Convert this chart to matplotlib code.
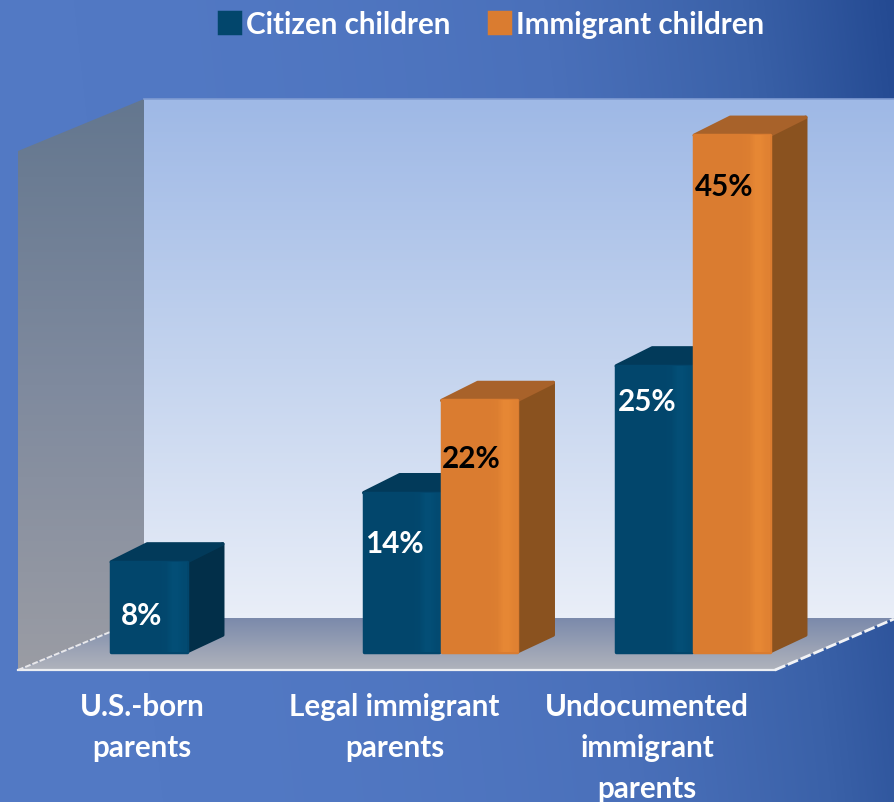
import numpy as np
from matplotlib import pyplot as plt
from matplotlib.colors import LinearSegmentedColormap
from matplotlib.patches import Polygon

categories = ["U.S.-born\nparents", "Legal immigrant\nparents", "Undocumented\nimmigrant\nparents"]
series_names = ["Citizen children", "Immigrant children"]
citizen_values = [8, 14, 25]
immigrant_values = [None, 22, 45]

W, H = 894, 803
PX_X = 252.5  # pixels per category
PX_Y = 11.53  # pixels per percent
X0, Y0 = 188, 654  # pixel position of category 0 / value 0
BAR_W = 78 / PX_X
DX, DY = 36 / PX_X, 18 / PX_Y  # fake 3d depth
FONT_SIZE = 21.3

# front, sheen, top, side
STYLE = {
    "citizen": ("#02466C", "#034E76", "#023A5A", "#022F49"),
    "immigrant": ("#DA7C30", "#E68734", "#A8622A", "#8A521F"),
}


def fx(px):
    return (px - X0) / PX_X


def fy(py):
    return (Y0 - py) / PX_Y


def cmap(*colors):
    return LinearSegmentedColormap.from_list("g", colors)


def gradient(ax, data, cm, extent, clip=None, zorder=1):
    im = ax.imshow(data, cmap=cm, vmin=0, vmax=1, extent=extent, origin="lower",
                   aspect="auto", zorder=zorder, interpolation="bilinear")
    if clip is not None:
        im.set_clip_path(clip)
    return im


def draw_background(ax):
    xx, yy = np.meshgrid(np.linspace(0, 1, 200), np.linspace(0, 1, 200))
    t = np.clip(xx + yy * 0.1 - 0.1, 0, 1) ** 2.2
    gradient(ax, t, cmap("#5279C4", "#4A70BA", "#3A61A8", "#244A92"),
             [fx(0), fx(W), fy(H), fy(0)], zorder=0)


def draw_walls(ax):
    # back wall
    ext = [fx(144), fx(W), fy(619), fy(100)]
    t = np.linspace(0, 1, 100).reshape(-1, 1)
    gradient(ax, t, cmap("#E9EEF8", "#C3D3EE", "#9FB9E6"), ext, zorder=1)
    ax.plot([fx(144), fx(W)], [fy(100), fy(100)], color="#7F9BD2", lw=1.2, zorder=2)

    # left wall
    left = Polygon([(fx(18), fy(152)), (fx(144), fy(100)), (fx(144), fy(619)), (fx(18), fy(671))],
                   transform=ax.transData, fc="none", ec="none")
    ax.add_patch(left)
    gradient(ax, t, cmap("#9A9CA4", "#7F8A9E", "#64778F"), [fx(18), fx(144), fy(671), fy(100)],
             clip=left, zorder=1)

    # floor
    floor = Polygon([(fx(18), fy(671)), (fx(144), fy(619)), (fx(W), fy(619)), (fx(775), fy(671))],
                    transform=ax.transData, fc="none", ec="none")
    ax.add_patch(floor)
    gradient(ax, t, cmap("#B0B3BC", "#7B8AAB"), [fx(18), fx(W), fy(671), fy(619)], clip=floor, zorder=1)

    ax.plot([fx(18), fx(775)], [fy(671), fy(671)], color="#ECEEF2", lw=1.6, zorder=2)
    ax.plot([fx(18), fx(144)], [fy(671), fy(619)], color="#E8E8EC", lw=1.4, ls=(0, (3, 1)), zorder=2)
    ax.plot([fx(775), fx(W)], [fy(671), fy(620)], color="#F2F3F6", lw=2, ls=(0, (4, 1)), zorder=2)


def draw_bars(ax, x, values, style, label):
    front, sheen, top, side = STYLE[style]
    keep = [i for i, v in enumerate(values) if v is not None]
    xs = np.array(x)[keep]
    vals = np.array([values[i] for i in keep], dtype=float)
    inner = BAR_W - 2.5 / PX_X

    # side and top faces go behind the front bar
    for xi, v in zip(xs, vals):
        r = xi + inner / 2
        l = xi - inner / 2
        ax.add_patch(Polygon([(r, 0.1), (r + DX, DY), (r + DX, v + DY - 0.1), (r, v - 0.1)], fc=side, ec=side,
                             lw=2.5, joinstyle="round", zorder=3 + xi / 10))
        ax.add_patch(Polygon([(l, v - 0.1), (l + DX, v + DY - 0.1), (r + DX, v + DY - 0.1), (r, v - 0.1)],
                             fc=top, ec=top, lw=2.5, joinstyle="round", zorder=3 + xi / 10))

    bars = ax.bar(xs, vals - 0.2, bottom=0.1, width=inner, color=front, edgecolor=front, linewidth=2.5,
                  label=label, zorder=4)
    for b in bars:
        b.set_joinstyle("round")
        xe = [b.get_x(), b.get_x() + b.get_width(), b.get_y(), b.get_y() + b.get_height()]
        g = np.array([[0, 0, 0, 0, 0, 0, 0, 0.05, 0.1, 0.25, 1, 1, 0.5]])
        gradient(ax, g, cmap(front, sheen), xe, clip=b, zorder=4.1)
    return bars


def main():
    fig = plt.figure(figsize=(W / 100, H / 100), dpi=100)
    ax = fig.add_axes([0, 0, 1, 1])
    plt.rcParams["font.family"] = ["Lato", "DejaVu Sans"]

    draw_background(ax)
    draw_walls(ax)

    x = np.arange(len(categories), dtype=float)
    bars_c = draw_bars(ax, x - BAR_W / 2, citizen_values, "citizen", series_names[0])
    bars_i = draw_bars(ax, x + BAR_W / 2, immigrant_values, "immigrant", series_names[1])

    # data labels sit by hand inside the bars, like in the original slide
    text_kw = dict(ha="center", va="center", fontsize=FONT_SIZE, fontweight="bold", family="Lato", zorder=6)
    for xi, v, drop in zip(x - BAR_W / 2, citizen_values, [54, 51, 36]):
        ax.annotate(f"{v}%", (xi, v), xytext=(-7 * 0.72, -drop * 0.72), textcoords="offset points",
                    color="white", **text_kw)
    for xi, v, drop in zip(x + BAR_W / 2, immigrant_values, [0, 59, 52]):
        if v is not None:
            ax.annotate(f"{v}%", (xi, v), xytext=(-8 * 0.72, -drop * 0.72), textcoords="offset points",
                        color="black", **text_kw)

    for xi, name in zip(x, categories):
        ax.text(xi - 46 / PX_X, fy(693), name, ha="center", va="top", color="white", fontsize=FONT_SIZE,
                fontweight="bold", family="Lato", linespacing=1.56, zorder=6)

    leg = ax.legend(
        handles=[bars_c[0], bars_i[0]],
        labels=series_names,
        loc="upper left",
        bbox_to_anchor=(213 / W, 1 - 5 / H),
        ncol=2,
        frameon=False,
        prop=dict(family="Lato", weight="bold", size=FONT_SIZE),
        labelcolor="white",
        handlelength=0.72,
        handleheight=0.72,
        handletextpad=0.2,
        columnspacing=1.3,
        borderpad=0.2,
        borderaxespad=0,
    )
    leg.set_zorder(7)

    ax.set_xlim(fx(0), fx(W))
    ax.set_ylim(fy(H), fy(0))
    ax.axis("off")

    fig.savefig("out.png", dpi=100)
    plt.close(fig)


if __name__ == "__main__":
    main()
